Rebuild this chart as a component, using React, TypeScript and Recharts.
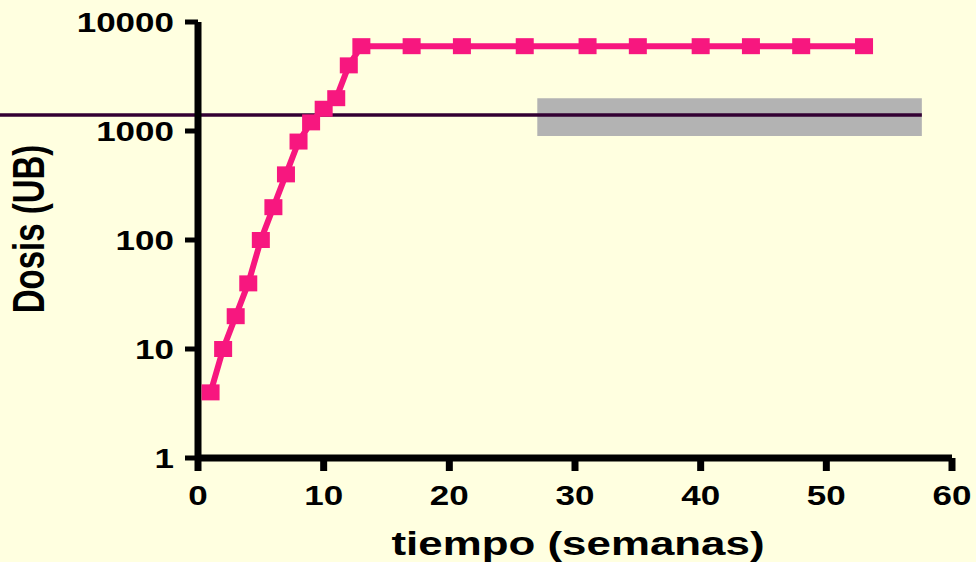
import { Label, Line, LineChart, ReferenceArea, ReferenceLine, XAxis, YAxis } from "recharts"

const weeks = [1, 2, 3, 4, 5, 6, 7, 8, 9, 10, 11, 12, 13, 17, 21, 26, 31, 35, 40, 44, 48, 53]
const doses = [4, 10, 20, 40, 100, 200, 400, 800, 1200, 1600, 2000, 4000, 6000, 6000, 6000, 6000, 6000, 6000, 6000, 6000, 6000, 6000]

const xTicks = [0, 10, 20, 30, 40, 50, 60]
const yTicks = [1, 10, 100, 1000, 10000]

const bandWeeks = [27, 57.6]
const bandDoses = [900, 2000]
const maintenanceDose = 1400
const maintenanceWeeks = [-16, 57.6]

const data = weeks.map((w, i) => ({ semana: w, dosis: doses[i] }))

const FONT = "'Liberation Sans', Arial, Helvetica, sans-serif"
const PINK = "#f7177f"

function XTick({ x, y, payload }: any) {
  return (
    <g transform={`translate(${x},${y}) scale(1.25,1)`}>
      <text textAnchor="middle" dy="0.71em" fontSize={28} fontWeight="bold" fontFamily={FONT} fill="#000">
        {payload.value}
      </text>
    </g>
  )
}

function YTick({ x, y, payload }: any) {
  return (
    <g transform={`translate(${x},${y}) scale(1.25,1)`}>
      <text textAnchor="end" dy="0.355em" fontSize={28} fontWeight="bold" fontFamily={FONT} fill="#000">
        {payload.value}
      </text>
    </g>
  )
}

function XTitle({ viewBox }: any) {
  const cx = viewBox.x + viewBox.width / 2 + 3
  return (
    <g transform={`translate(${cx},555) scale(1.33,1)`}>
      <text textAnchor="middle" fontSize={33} fontWeight="bold" fontFamily={FONT} fill="#000">
        tiempo (semanas)
      </text>
    </g>
  )
}

function YTitle() {
  return (
    <g transform="translate(44,229) rotate(-90) scale(1,1.35)">
      <text textAnchor="middle" fontSize={33} fontWeight="bold" fontFamily={FONT} fill="#000">
        Dosis (UB)
      </text>
    </g>
  )
}

function SquareDot({ cx, cy, index }: any) {
  return <rect key={`d-${index}`} x={cx - 9} y={cy - 8} width={18} height={16} fill={PINK} />
}

export default function App() {
  return (
    <div style={{ position: "absolute", left: 0, top: 0, width: 976, height: 562, background: "#ffffe0" }}>
      <LineChart width={976} height={562} data={data} margin={{ top: 22, right: 24, bottom: 0, left: 0 }}>
        <XAxis
          dataKey="semana"
          type="number"
          domain={[0, 60]}
          ticks={xTicks}
          height={104}
          tickSize={13}
          tickMargin={14}
          tick={<XTick />}
          axisLine={{ stroke: "#000", strokeWidth: 7 }}
          tickLine={{ stroke: "#000", strokeWidth: 7 }}
        >
          <Label content={<XTitle />} />
        </XAxis>
        <YAxis
          dataKey="dosis"
          scale="log"
          domain={[1, 10000]}
          ticks={yTicks}
          allowDataOverflow
          width={198}
          tickSize={13}
          tickMargin={11}
          tick={<YTick />}
          axisLine={{ stroke: "#000", strokeWidth: 7 }}
          tickLine={{ stroke: "#000", strokeWidth: 5 }}
        >
          <Label content={<YTitle />} />
        </YAxis>
        <ReferenceArea
          x1={bandWeeks[0]}
          x2={bandWeeks[1]}
          y1={bandDoses[0]}
          y2={bandDoses[1]}
          fill="#b3b3b3"
          fillOpacity={1}
          stroke="none"
          ifOverflow="visible"
        />
        <ReferenceLine
          segment={[
            { x: maintenanceWeeks[0], y: maintenanceDose },
            { x: maintenanceWeeks[1], y: maintenanceDose },
          ]}
          stroke="#330033"
          strokeWidth={3.5}
          ifOverflow="visible"
        />
        <Line
          dataKey="dosis"
          stroke={PINK}
          strokeWidth={6}
          dot={<SquareDot />}
          activeDot={false}
          isAnimationActive={false}
        />
      </LineChart>
    </div>
  )
}
